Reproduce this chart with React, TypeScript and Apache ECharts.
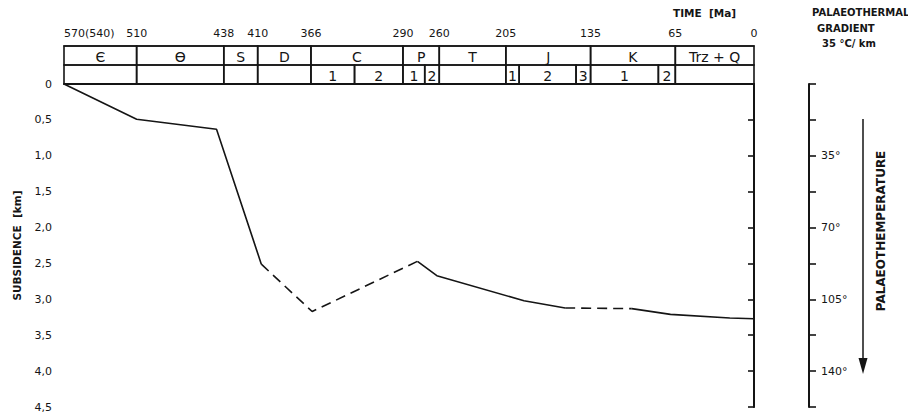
import React, { useEffect, useRef } from 'react';
import * as echarts from 'echarts';

// Time axis (Ma) tick labels
const timeTicks = [510, 438, 410, 366, 290, 260, 205, 135, 65, 0];
const startTick = 570;
const startTickLabel = '570(540)';

// Stratigraphic table: [start Ma, end Ma, label]
const periods: [number, number, string][] = [
  [570, 510, 'Є'],
  [510, 438, 'Ө'],
  [438, 410, 'S'],
  [410, 366, 'D'],
  [366, 290, 'C'],
  [290, 260, 'P'],
  [260, 205, 'T'],
  [205, 135, 'J'],
  [135, 65, 'K'],
  [65, 0, 'Trz + Q'],
];
const epochs: [number, number, string][] = [
  [570, 510, ''],
  [510, 438, ''],
  [438, 410, ''],
  [410, 366, ''],
  [366, 330, '1'],
  [330, 290, '2'],
  [290, 272, '1'],
  [272, 260, '2'],
  [260, 205, ''],
  [205, 194, '1'],
  [194, 147, '2'],
  [147, 135, '3'],
  [135, 79, '1'],
  [79, 65, '2'],
  [65, 0, ''],
];

// Subsidence curve [time Ma, depth km]
const solid1 = [[570, 0], [510, 0.49], [444, 0.63], [407, 2.51]];
const dashed1 = [[407, 2.51], [365, 3.17], [278, 2.47]];
const solid2 = [[278, 2.47], [262, 2.67], [190, 3.02], [156, 3.12]];
const dashed2 = [[156, 3.12], [101, 3.13]];
const solid3 = [[101, 3.13], [69, 3.21], [20, 3.26], [0, 3.27]];

// Palaeotemperature axis (35 °C/km)
const tempMax = 157.5;
const tempStep = 17.5;
const tempLabelStep = 35;

const FONT = 'DejaVu Sans';
const INK = '#151515';

export default function App() {
  const ref = useRef<HTMLDivElement>(null);
  useEffect(() => {
    document.body.style.margin = '0';
    const chart = echarts.init(ref.current!, null, { renderer: 'svg' });
    const cells = [
      ...periods.map((p) => [p[0], p[1], 0, p[2]] as [number, number, number, string]),
      ...epochs.map((p) => [p[0], p[1], 1, p[2]] as [number, number, number, string]),
    ];
    const lineStyle = { color: INK, width: 1.6 };
    const mkLine = (data: number[][], dashed: boolean) => ({
      type: 'line',
      xAxisIndex: 0,
      yAxisIndex: 0,
      data,
      showSymbol: false,
      silent: true,
      lineStyle: { ...lineStyle, type: dashed ? [10, 6] : 'solid' },
    });
    chart.setOption({
      animation: false,
      backgroundColor: '#fff',
      textStyle: { fontFamily: FONT, color: INK },
      grid: [
        { left: 64, right: 154, top: 84, bottom: 8, outerBoundsMode: 'none' },
        { left: 64, right: 154, top: 46, height: 38, outerBoundsMode: 'none' },
      ],
      xAxis: [
        {
          type: 'value', gridIndex: 0, min: 0, max: 570, inverse: true, position: 'top',
          axisLine: { show: true, lineStyle: { color: INK, width: 2 } },
          axisTick: { show: false }, axisLabel: { show: false }, splitLine: { show: false },
        },
        {
          type: 'value', gridIndex: 1, min: 0, max: 570, inverse: true, position: 'top',
          axisLine: { show: true, lineStyle: { color: INK, width: 1.6 } },
          axisTick: { show: false }, splitLine: { show: false },
          axisLabel: {
            show: true, customValues: timeTicks, margin: 7, fontSize: 11, color: INK, fontFamily: FONT,
            formatter: (v: number) => String(v),
          },
        },
        {
          type: 'value', gridIndex: 1, min: 0, max: 570, inverse: true, position: 'top',
          axisLine: { show: false }, axisTick: { show: false }, splitLine: { show: false },
          axisLabel: {
            show: true, customValues: [startTick], margin: 7, fontSize: 11, color: INK, fontFamily: FONT,
            align: 'left', formatter: () => startTickLabel,
          },
        },
      ],
      yAxis: [
        {
          type: 'value', gridIndex: 0, min: 0, max: 4.5, interval: 0.5, inverse: true, position: 'left',
          name: 'SUBSIDENCE  [km]', nameLocation: 'middle', nameGap: 42, nameRotate: 90,
          nameTextStyle: { fontSize: 10.5, fontWeight: 'bold', color: INK, fontFamily: FONT },
          axisLine: { show: true, lineStyle: { color: INK, width: 2 } },
          axisTick: { show: true, length: 6, lineStyle: { color: INK, width: 1.6 } },
          splitLine: { show: false },
          axisLabel: {
            margin: 12, fontSize: 11, color: INK, fontFamily: FONT,
            formatter: (v: number) => (v === 0 ? '0' : v.toFixed(1).replace('.', ',')),
          },
        },
        {
          type: 'value', gridIndex: 0, min: 0, max: 4.5, inverse: true, position: 'right',
          axisLine: { show: true, onZero: false, lineStyle: { color: INK, width: 1.6 } },
          axisTick: { show: false }, axisLabel: { show: false }, splitLine: { show: false },
        },
        {
          type: 'value', gridIndex: 0, min: 0, max: tempMax, interval: tempStep, inverse: true,
          position: 'right', offset: 55,
          axisLine: { show: true, onZero: false, lineStyle: { color: INK, width: 2 } },
          axisTick: { show: true, length: 7, lineStyle: { color: INK, width: 1.6 } },
          splitLine: { show: false },
          axisLabel: {
            margin: 12, fontSize: 11, color: INK, fontFamily: FONT,
            formatter: (v: number) => {
              const r = Math.round(v * 10) / 10;
              return r > 0 && Math.abs(r % tempLabelStep) < 1e-6 ? r + '°' : '';
            },
          },
        },
        {
          type: 'value', gridIndex: 1, min: 0, max: 2, inverse: true, show: false,
        },
      ],
      series: [
        {
          type: 'custom',
          xAxisIndex: 1,
          yAxisIndex: 3,
          data: cells.map((c) => [c[0], c[1], c[2]]),
          encode: { x: [0, 1], y: 2 },
          silent: true,
          renderItem: (params: any, api: any) => {
            const s = api.value(0);
            const e = api.value(1);
            const r = api.value(2);
            const p1 = api.coord([s, r]);
            const p2 = api.coord([e, r + 1]);
            const label = cells[params.dataIndex][3];
            return {
              type: 'group',
              children: [
                {
                  type: 'rect',
                  shape: { x: p1[0], y: p1[1], width: p2[0] - p1[0], height: p2[1] - p1[1] },
                  style: { fill: 'none', stroke: INK, lineWidth: 1.6 },
                },
                {
                  type: 'text',
                  style: {
                    text: label,
                    x: (p1[0] + p2[0]) / 2,
                    y: (p1[1] + p2[1]) / 2 + 1,
                    align: 'center',
                    verticalAlign: 'middle',
                    fontSize: 14,
                    fontFamily: FONT,
                    fill: INK,
                  },
                },
              ],
            };
          },
        },
        mkLine(solid1, false),
        mkLine(dashed1, true),
        mkLine(solid2, false),
        mkLine(dashed2, true),
        mkLine(solid3, false),
      ],
      graphic: [
        {
          type: 'text', left: 673, top: 7,
          style: { text: 'TIME  [Ma]', fontSize: 10.5, fontWeight: 'bold', fontFamily: FONT, fill: INK },
        },
        {
          type: 'text', left: 812, top: 7,
          style: { text: 'PALAEOTHERMAL', fontSize: 10, fontWeight: 'bold', fontFamily: FONT, fill: INK },
        },
        {
          type: 'text', left: 817, top: 23,
          style: { text: 'GRADIENT', fontSize: 10, fontWeight: 'bold', fontFamily: FONT, fill: INK },
        },
        {
          type: 'text', left: 822, top: 38,
          style: { text: '35 °C/ km', fontSize: 10, fontWeight: 'bold', fontFamily: FONT, fill: INK },
        },
        {
          type: 'line',
          shape: { x1: 863, y1: 119, x2: 863, y2: 362 },
          style: { stroke: INK, lineWidth: 1.5 },
        },
        {
          type: 'polygon',
          shape: { points: [[858.5, 358], [867.5, 358], [863, 374]] },
          style: { fill: INK },
        },
        {
          type: 'text', x: 881, y: 231, rotation: Math.PI / 2,
          style: {
            text: 'PALAEOTHEMPERATURE', fontSize: 12, fontWeight: 'bold', fontFamily: FONT, fill: INK,
            align: 'center', verticalAlign: 'middle',
          },
        },
      ],
    });
    return () => chart.dispose();
  }, []);
  return <div ref={ref} style={{ width: 908, height: 415 }} />;
}
